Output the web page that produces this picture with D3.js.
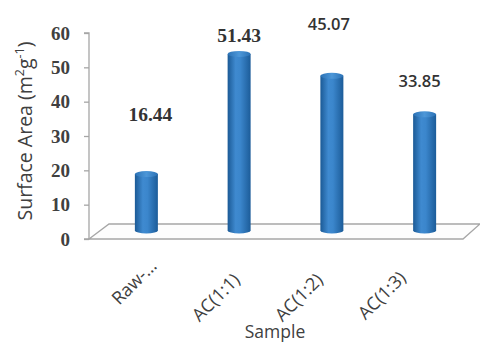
<!DOCTYPE html>
<html>
<head>
<meta charset="utf-8">
<script src="https://cdn.jsdelivr.net/npm/d3@7"></script>
<style>
  html, body { margin: 0; padding: 0; background: #fff; }
  svg { display: block; }
</style>
</head>
<body>
<svg id="chart" width="480" height="343"></svg>
<script>
// Surface area of raw and activated carbon samples
const categories = ["Raw-…", "AC(1:1)", "AC(1:2)", "AC(1:3)"];
const surfaceArea = [16.44, 51.43, 45.07, 33.85];
const yTicks = [0, 10, 20, 30, 40, 50, 60];

// Layout of the value labels: lift (px) above each column top, sideways shift, and font
const labelLift = [53, 12, 46, 27];
const labelShift = [4, 0, -3, -5];
const labelSerif = [true, true, false, false];
// Vertical nudge (px) of each rotated category label
const catNudge = [-14, 0, 0, -2];

const svg = d3.select("#chart");

// Plot frame: axis at x=89, floor front edge at y=239, depth offset for the 3D floor
const axisX = 89, y0 = 239, yTop = 33;
const depthX = 20, depthY = 15;
const floorRight = 463;

const y = d3.scaleLinear().domain([0, 60]).range([y0, yTop]);
const x = d3.scaleBand().domain(categories).range([100, 471]).paddingInner(0.75).paddingOuter(0.375);
// Category labels sit along the front edge of the floor
const xLabel = d3.scalePoint().domain(categories).range([158, 407]);

// Gradient for the cylinders
const defs = svg.append("defs");
const grad = defs.append("linearGradient").attr("id", "cyl").attr("x1", "0").attr("x2", "1").attr("y1", "0").attr("y2", "0");
[["0%", "#1b5a96"], ["35%", "#3f8ad0"], ["55%", "#3b86cc"], ["100%", "#1c5c99"]]
  .forEach(([o, c]) => grad.append("stop").attr("offset", o).attr("stop-color", c));
const gradTop = defs.append("linearGradient").attr("id", "cylTop").attr("x1", "0").attr("x2", "1");
[["0%", "#2b72b6"], ["50%", "#4d97d8"], ["100%", "#2b72b6"]]
  .forEach(([o, c]) => gradTop.append("stop").attr("offset", o).attr("stop-color", c));

// 3D floor
const floor = svg.append("g").attr("fill", "none").attr("stroke", "#a6a6a6").attr("stroke-width", 1.3);
floor.append("path").attr("d",
  `M${axisX},${y0} L${axisX + depthX},${y0 - depthY} L${floorRight + 17},${y0 - depthY} L${floorRight},${y0} Z`)
  .attr("fill", "#fdfdfd");

// Y axis
const yAxis = d3.axisLeft(y).tickValues(yTicks).tickSize(5).tickPadding(14).tickFormat(d3.format("d"));
const gy = svg.append("g").attr("transform", `translate(${axisX},0)`).call(yAxis);
gy.select(".domain").attr("stroke", "#a6a6a6").attr("stroke-width", 1.3).attr("d", `M-5,${yTop}H0V${y0}H-5`);
gy.selectAll(".tick line").attr("stroke", "#a6a6a6").attr("stroke-width", 1.3);
gy.selectAll(".tick text")
  .attr("font-family", "'Liberation Serif', serif")
  .attr("font-weight", "bold")
  .attr("font-size", 19)
  .attr("fill", "#404040");
gy.select(".domain").lower();

// Cylinders, standing mid-depth on the floor
const baseY = y0 - depthY / 2 - 1;
const ry = 3;
const bars = svg.append("g");
categories.forEach((c, i) => {
  const v = surfaceArea[i];
  const cx = x(c) + x.bandwidth() / 2;
  const w = 23;
  const topY = baseY - (y(0) - y(v));
  const g = bars.append("g");
  g.append("path")
    .attr("d", `M${cx - w / 2},${topY} L${cx - w / 2},${baseY} A${w / 2},${ry} 0 0 0 ${cx + w / 2},${baseY} L${cx + w / 2},${topY} Z`)
    .attr("fill", "url(#cyl)");
  g.append("ellipse")
    .attr("cx", cx).attr("cy", topY).attr("rx", w / 2).attr("ry", ry)
    .attr("fill", "url(#cylTop)");

  // Value label
  svg.append("text")
    .attr("x", cx + labelShift[i])
    .attr("y", topY - labelLift[i])
    .attr("text-anchor", "middle")
    .attr("font-family", labelSerif[i] ? "'Liberation Serif', serif" : "'Open Sans', sans-serif")
    .attr("font-size", labelSerif[i] ? 19.5 : 16.5)
    .attr("font-weight", labelSerif[i] ? "bold" : 600)
    .attr("fill", "#333")
    .text(v.toFixed(2));
});

// Category labels, rotated
categories.forEach((c, i) => {
  svg.append("text")
    .attr("transform", `translate(${xLabel(c)},${281 + catNudge[i]}) rotate(-45)`)
    .attr("text-anchor", "end")
    .attr("font-family", "'Open Sans', sans-serif")
    .attr("font-size", 18)
    .attr("fill", "#404040")
    .text(c);
});

// Axis titles
svg.append("text")
  .attr("x", 275).attr("y", 338)
  .attr("text-anchor", "middle")
  .attr("font-family", "'Open Sans', sans-serif")
  .attr("font-size", 17.5)
  .attr("fill", "#404040")
  .text("Sample");

const yt = svg.append("text")
  .attr("transform", `translate(32,${131}) rotate(-90)`)
  .attr("text-anchor", "middle")
  .attr("font-family", "'Open Sans', sans-serif")
  .attr("font-size", 19.5)
  .attr("fill", "#404040");
yt.append("tspan").text("Surface Area (m");
yt.append("tspan").attr("baseline-shift", "super").attr("font-size", 12.5).text("2");
yt.append("tspan").text("g");
yt.append("tspan").attr("baseline-shift", "super").attr("font-size", 12.5).text("-1");
yt.append("tspan").text(")");
</script>
</body>
</html>
